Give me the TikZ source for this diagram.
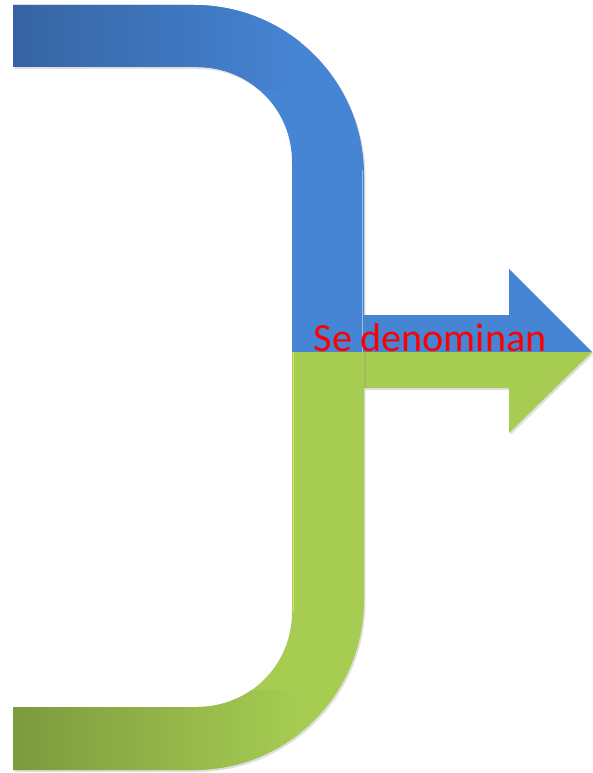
\documentclass[tikz,border=0pt]{standalone}
\usepackage{fontspec}
\setmainfont{Carlito}
\usepackage{xcolor}
\usepackage{tikz}
\usetikzlibrary{shadows}
\definecolor{barblue}{RGB}{70,132,212}
\definecolor{barbluedark}{RGB}{54,100,162}
\definecolor{bargreen}{RGB}{166,204,82}
\definecolor{bargreendark}{RGB}{124,154,62}

\begin{document}
\begin{tikzpicture}[x=1pt,y=-1pt,
  softshadow/.style={drop shadow={opacity=0.25,shadow xshift=1.5pt,shadow yshift=-2pt}}]
  \useasboundingbox (0,0) rectangle (592,773);
  \fill[barblue,softshadow] (364,315) -- (509,315) -- (509,269) -- (592,352) -- (364,352) -- cycle;
  \fill[bargreen,softshadow] (364,352) -- (592,352) -- (509,433) -- (509,388) -- (364,388) -- cycle;
  \fill[barblue,softshadow] (13,5) -- (194,5) .. controls (288,5) and (364,81) .. (364,175)
    -- (364,352) -- (292,352) -- (292,162) .. controls (292,109) and (250,67) .. (197,67)
    -- (13,67) -- cycle;
  \begin{scope}
    \clip (13,5) -- (194,5) .. controls (288,5) and (364,81) .. (364,175)
      -- (364,352) -- (292,352) -- (292,162) .. controls (292,109) and (250,67) .. (197,67)
      -- (13,67) -- cycle;
    \shade[left color=barbluedark,right color=barblue] (13,0) rectangle (300,90);
  \end{scope}
  \fill[bargreen,softshadow] (13,707) -- (197,707) .. controls (250,707) and (292,665) .. (292,612)
    -- (292,352) -- (364,352) -- (364,600) .. controls (364,694) and (288,770) .. (194,770)
    -- (13,770) -- cycle;
  \begin{scope}
    \clip (13,707) -- (197,707) .. controls (250,707) and (292,665) .. (292,612)
      -- (292,352) -- (364,352) -- (364,600) .. controls (364,694) and (288,770) .. (194,770)
      -- (13,770) -- cycle;
    \shade[left color=bargreendark,right color=bargreen] (13,690) rectangle (300,773);
  \end{scope}
  \draw[barblue!55!white,line width=1.5pt] (362.5,170) -- (362.5,352);
  \draw[bargreen!50!yellow!85!white,line width=1.5pt] (293.5,352) -- (293.5,612);
  \node[text=red,font=\fontsize{40}{48}\selectfont,anchor=base,inner sep=0pt] (label) at (430,351) {Se denominan};
\end{tikzpicture}
\end{document}
